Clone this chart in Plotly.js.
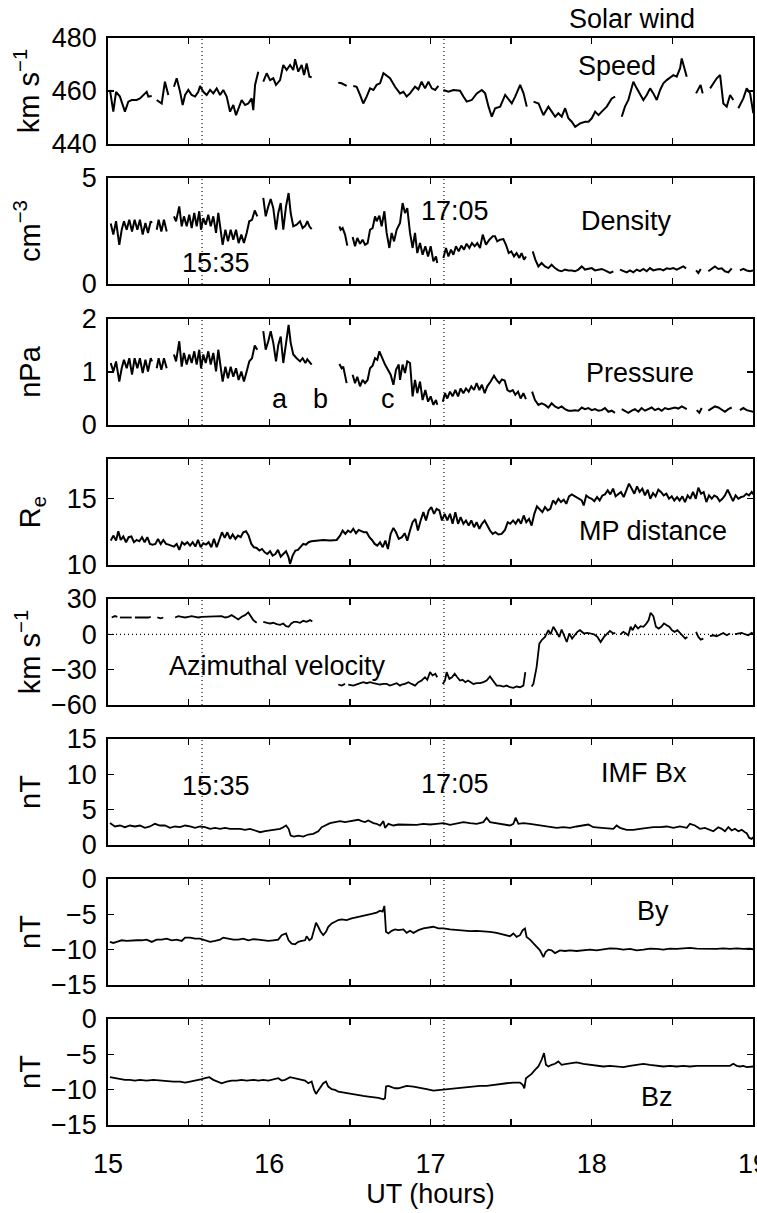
<!DOCTYPE html>
<html>
<head>
<meta charset="utf-8">
<script src="https://cdn.plot.ly/plotly-3.0.1.min.js"></script>
<style>html,body{margin:0;padding:0;background:#fff;}#plot{width:757px;height:1213px;}</style>
</head>
<body>
<div id="plot"></div>
<script>
// ---------------- DATA (UT hours) ----------------
const speedT = [15.012,15.033,15.050,15.074,15.105,15.126,15.147,15.178,15.198,15.219,15.240,15.250,15.271,null,
 15.302,15.333,15.353,15.374,null,
 15.409,15.426,15.447,15.463,15.478,15.498,15.519,15.540,15.560,15.571,15.591,15.612,15.633,15.653,15.674,15.695,15.715,15.736,15.757,15.777,15.794,15.814,15.829,15.850,15.870,15.891,15.901,15.912,15.932,null,
 15.963,15.984,16.005,16.025,16.042,16.067,16.087,16.108,16.129,16.149,16.160,16.180,16.201,16.216,16.232,16.249,16.263,null,
 16.428,16.449,16.480,null,
 16.521,16.542,16.563,16.583,16.604,16.625,16.646,16.666,16.687,16.708,16.749,16.780,16.811,16.832,16.852,16.873,16.904,16.925,16.945,16.966,16.987,17.008,17.029,17.049,null,
 17.080,17.111,17.142,17.183,17.204,17.225,17.256,17.287,17.318,17.339,17.360,17.380,17.401,17.432,17.463,17.484,17.504,17.525,17.556,17.577,17.597,null,
 17.639,17.670,17.700,17.731,17.752,17.773,17.793,17.814,17.835,17.855,17.876,17.897,17.928,17.959,17.980,18.000,18.021,18.042,18.062,18.093,18.124,18.145,null,
 18.186,18.206,18.227,18.258,18.279,18.300,18.320,18.341,18.362,18.382,18.403,18.424,18.444,18.465,18.486,18.506,18.527,18.548,18.558,18.568,18.589,null,
 18.647,18.661,18.675,18.688,null,
 18.734,18.754,18.775,18.796,18.816,18.837,18.858,18.878,null,
 18.909,18.940,18.961,18.982,19.002];
const speedV = [460.4,452.2,459.7,457.9,452.2,456.0,456.6,456.6,457.2,458.5,459.7,457.9,458.1,null,
 456.6,455.3,463.5,458.5,null,
 461.6,464.8,459.7,454.7,458.5,460.4,458.5,457.9,459.7,461.9,459.7,458.5,460.4,459.1,461.0,458.5,460.4,457.9,452.2,454.7,450.9,454.1,456.6,454.7,455.3,457.2,452.8,462.3,467.3,null,
 463.5,466.7,464.1,464.8,462.3,464.1,469.8,467.9,469.8,467.9,472.0,467.3,469.8,466.0,470.4,465.4,465.2,null,
 463.1,462.9,461.9,null,
 461.9,461.6,458.5,455.3,457.9,461.0,460.4,462.3,462.9,466.7,464.8,461.6,459.1,459.7,457.9,459.1,461.6,460.6,463.5,461.0,463.5,461.0,460.4,461.9,null,
 460.4,459.7,460.4,460.1,457.9,456.0,456.6,459.1,460.4,459.1,454.1,450.3,453.5,454.1,458.5,456.6,455.3,457.9,462.3,459.1,454.1,null,
 456.0,455.3,450.9,454.1,452.2,450.3,451.6,450.3,453.5,449.7,448.4,446.5,447.8,448.4,448.4,449.7,452.2,450.9,452.2,454.1,457.2,457.9,null,
 450.3,454.1,456.6,463.5,461.0,458.5,456.6,458.5,461.0,459.1,456.6,460.4,462.9,464.1,465.2,466.0,465.4,468.6,472.3,469.8,465.4,null,
 459.1,461.0,462.3,459.1,null,
 461.0,462.9,464.8,466.0,455.3,454.1,458.5,456.6,null,
 453.5,457.2,461.0,459.1,451.6];

const densT = [15.017,15.033,15.050,15.070,15.085,15.099,15.116,15.132,15.149,15.165,15.182,15.198,15.215,15.232,15.248,15.265,15.273,null,
 15.302,15.314,15.331,15.347,15.364,null,
 15.409,15.422,15.442,15.457,15.471,15.488,15.504,15.519,15.535,15.550,15.566,15.577,15.591,15.606,15.622,15.637,15.653,15.670,15.684,15.695,15.711,15.728,15.744,15.761,15.777,15.794,15.810,15.827,15.843,15.860,15.876,15.893,15.910,15.926,null,
 15.963,15.978,15.994,16.009,16.025,16.042,16.056,16.071,16.087,16.104,16.120,16.133,16.149,16.170,16.191,16.207,16.224,16.236,16.249,16.263,null,
 16.435,16.443,16.455,16.470,16.484,null,
 16.517,16.532,16.546,16.563,16.579,16.594,16.610,16.625,16.641,16.656,16.666,16.683,16.697,16.714,16.728,16.745,16.759,16.774,16.790,16.811,16.827,16.842,16.856,16.873,16.889,16.904,16.918,16.935,16.951,16.968,16.985,17.001,17.018,17.034,17.042,null,
 17.080,17.096,17.111,17.127,17.142,17.158,17.175,17.191,17.208,17.224,17.241,17.257,17.274,17.290,17.307,17.324,17.344,17.365,17.386,17.400,17.414,17.431,17.452,17.468,17.485,17.501,17.518,17.534,17.551,17.565,17.580,17.592,null,
 17.634,17.650,17.669,17.689,17.710,17.731,17.751,17.772,17.793,17.813,17.834,17.855,17.876,17.896,17.917,17.938,17.958,17.979,18.000,18.020,18.041,18.062,18.082,18.113,18.134,null,
 18.175,18.196,18.217,18.237,18.258,18.279,18.299,18.320,18.341,18.361,18.382,18.403,18.423,18.444,18.465,18.485,18.506,18.527,18.547,18.568,18.585,null,
 18.647,18.661,18.676,null,
 18.723,18.744,18.764,18.785,18.806,18.826,18.847,18.868,null,
 18.919,18.940,18.961,18.981,19.002];
const densV = [2.85,2.33,2.96,1.85,2.56,2.96,2.56,3.03,2.48,3.03,2.56,3.03,2.33,2.88,2.41,2.96,2.88,null,
 2.56,3.03,2.48,3.03,2.48,null,
 3.19,2.96,3.66,2.72,3.19,2.72,3.27,2.64,3.35,2.72,3.43,2.56,3.11,2.80,3.27,2.72,3.19,2.41,3.35,2.64,1.85,2.56,2.01,2.56,2.09,2.56,1.93,2.33,1.93,2.41,2.96,3.03,3.47,3.19,null,
 4.06,3.19,3.66,4.01,3.58,2.56,3.35,3.82,2.56,3.66,4.29,3.35,2.72,2.80,2.96,2.64,2.75,2.96,2.72,2.59,null,
 2.72,2.56,2.64,2.33,1.81,null,
 2.22,1.78,2.17,1.90,2.09,1.85,1.93,2.56,2.64,3.19,2.96,3.22,2.72,3.43,2.41,1.70,2.41,2.01,2.56,2.88,3.82,3.35,3.58,2.41,1.70,2.41,1.46,1.93,1.38,1.78,1.30,1.78,1.07,1.30,0.99,null,
 1.23,1.70,1.30,1.62,1.38,1.78,1.54,1.81,1.62,1.90,1.70,1.93,1.78,1.93,1.70,2.33,1.85,2.09,2.25,2.25,2.01,2.09,2.12,1.85,1.46,1.54,1.30,1.46,1.23,1.46,1.15,1.30,null,
 1.54,1.15,0.83,0.99,0.83,0.75,0.91,0.75,0.64,0.60,0.68,0.64,0.64,0.60,0.68,0.83,0.68,0.71,0.75,0.64,0.68,0.71,0.64,0.52,0.60,null,
 0.68,0.60,0.55,0.64,0.55,0.68,0.61,0.71,0.60,0.75,0.64,0.68,0.71,0.64,0.74,0.71,0.75,0.68,0.77,0.83,0.74,null,
 0.64,0.52,0.71,null,
 0.60,0.74,0.83,0.71,0.74,0.60,0.55,0.74,null,
 0.64,0.71,0.64,0.60,0.64];

const presT = [15.017,15.033,15.050,15.070,15.085,15.099,15.116,15.132,15.149,15.165,15.182,15.198,15.215,15.232,15.248,15.265,15.273,null,
 15.302,15.314,15.331,15.347,15.364,null,
 15.409,15.422,15.442,15.457,15.471,15.488,15.504,15.519,15.535,15.550,15.566,15.577,15.591,15.606,15.622,15.637,15.653,15.670,15.684,15.695,15.711,15.728,15.744,15.761,15.777,15.794,15.810,15.827,15.843,15.860,15.876,15.893,15.910,15.926,null,
 15.963,15.978,15.994,16.009,16.025,16.042,16.056,16.071,16.087,16.104,16.120,16.133,16.149,16.170,16.191,16.207,16.224,16.236,16.249,16.263,null,
 16.435,16.449,16.459,16.480,null,
 16.517,16.532,16.546,16.563,16.579,16.594,16.610,16.625,16.641,16.656,16.670,16.683,16.697,16.718,16.753,16.770,16.786,16.803,16.811,16.827,16.842,16.856,16.873,16.889,16.904,16.918,16.935,16.951,16.968,16.985,17.001,17.018,17.034,17.042,null,
 17.076,17.090,17.104,17.121,17.137,17.154,17.171,17.187,17.204,17.220,17.237,17.253,17.270,17.286,17.303,17.319,17.336,17.352,17.373,17.394,17.410,17.427,17.443,17.460,17.477,17.493,17.510,17.526,17.543,17.559,17.576,17.592,null,
 17.630,17.648,17.669,17.689,17.710,17.731,17.751,17.772,17.793,17.813,17.834,17.855,17.876,17.896,17.917,17.938,17.958,17.979,18.000,18.020,18.041,18.062,18.082,18.103,18.124,18.144,null,
 18.186,18.206,18.227,18.248,18.268,18.289,18.309,18.330,18.351,18.372,18.392,18.413,18.434,18.454,18.475,18.496,18.516,18.537,18.558,18.578,18.589,null,
 18.651,18.667,18.682,null,
 18.723,18.744,18.764,18.785,18.806,18.826,18.847,18.868,null,
 18.919,18.940,18.961,18.981,19.002];
const presV = [1.17,1.01,1.20,0.82,1.07,1.23,1.07,1.26,0.95,1.26,1.07,1.26,0.98,1.23,1.01,1.26,1.20,null,
 1.07,1.26,1.04,1.26,1.07,null,
 1.33,1.20,1.58,1.10,1.36,1.14,1.33,1.17,1.39,1.14,1.42,1.07,1.33,1.17,1.39,1.14,1.36,1.01,1.42,1.14,0.82,1.10,0.88,1.10,0.91,1.07,0.85,1.01,0.82,1.01,1.20,1.26,1.50,1.42,null,
 1.77,1.42,1.58,1.77,1.55,1.20,1.51,1.67,1.17,1.58,1.89,1.55,1.33,1.26,1.20,1.26,1.17,1.24,1.18,1.14,null,
 1.15,1.07,1.10,0.79,null,
 0.95,0.79,0.91,0.73,0.85,0.79,0.85,1.07,1.12,1.26,1.23,1.39,1.29,1.14,0.95,0.76,1.04,1.14,0.85,1.14,0.98,1.20,1.17,0.54,0.85,0.60,0.82,0.47,0.66,0.44,0.54,0.38,0.47,0.38,null,
 0.44,0.60,0.50,0.63,0.54,0.66,0.54,0.69,0.60,0.69,0.63,0.73,0.66,0.79,0.66,0.76,0.60,0.73,0.82,0.93,0.85,0.79,0.86,0.84,0.66,0.63,0.66,0.57,0.63,0.50,0.60,0.49,null,
 0.63,0.47,0.38,0.41,0.38,0.33,0.41,0.35,0.32,0.35,0.30,0.27,0.27,0.28,0.27,0.33,0.30,0.32,0.28,0.30,0.27,0.28,0.32,0.25,0.27,0.23,null,
 0.30,0.27,0.23,0.27,0.30,0.25,0.32,0.27,0.30,0.33,0.28,0.31,0.27,0.32,0.30,0.32,0.33,0.31,0.35,0.32,0.30,null,
 0.28,0.23,0.32,null,
 0.27,0.32,0.35,0.33,0.28,0.25,0.30,0.33,null,
 0.28,0.32,0.28,0.27,0.25];

const mpT = [15.017,15.033,15.050,15.064,15.079,15.095,15.112,15.128,15.145,15.161,15.178,15.194,15.211,15.227,15.244,15.260,15.277,15.294,15.310,15.327,15.343,15.360,15.376,15.393,15.409,15.426,15.442,15.459,15.475,15.492,15.509,15.525,15.542,15.558,15.575,15.591,15.608,15.624,15.641,15.657,15.674,15.690,15.707,15.724,15.740,15.757,15.773,15.790,15.806,15.823,15.839,15.856,15.872,15.889,15.905,15.922,15.939,15.955,15.972,15.988,16.005,16.021,16.038,16.054,16.071,16.087,16.104,16.120,16.129,16.145,16.162,16.178,16.195,16.211,16.228,16.244,16.261,16.294,16.335,16.377,16.418,16.439,16.455,16.472,16.488,16.505,16.521,16.538,16.555,16.571,16.588,16.604,16.621,16.637,16.654,16.670,16.687,16.704,16.720,16.736,16.753,16.770,16.786,16.803,
 16.823,16.840,16.856,16.873,16.889,16.906,16.922,16.939,16.956,16.972,16.989,17.005,17.022,17.038,17.055,17.071,17.088,17.104,17.121,17.137,17.154,17.171,17.187,17.204,17.220,17.237,17.253,17.270,17.286,17.303,17.319,17.336,17.352,17.369,17.386,17.402,17.421,17.441,17.462,17.479,17.495,17.512,17.528,17.545,17.561,17.578,17.594,17.611,17.627,17.644,17.660,17.677,17.694,17.710,17.727,17.743,17.760,17.776,17.793,17.809,17.826,17.842,17.859,17.876,17.896,17.917,17.938,17.950,17.966,17.983,18.000,18.016,18.033,18.049,18.066,18.082,18.099,18.115,18.132,18.148,18.165,18.181,18.198,18.214,18.231,18.248,18.264,18.281,18.297,18.314,18.330,18.347,18.363,18.380,18.396,18.413,18.429,18.446,18.463,18.479,18.496,18.512,18.529,18.545,18.562,18.578,18.595,18.611,18.628,18.645,18.661,18.678,18.694,18.711,18.727,18.744,18.760,18.777,18.793,18.810,18.826,18.843,18.859,18.876,18.892,18.909,18.926,18.942,18.959,18.975,18.992,19.002];
const mpV = [11.84,12.22,11.84,12.55,11.89,12.15,11.72,12.10,12.15,11.72,11.89,11.79,12.10,11.72,12.10,11.59,11.54,11.59,11.97,11.59,11.89,11.59,11.54,11.46,11.39,11.59,11.14,11.72,11.54,11.72,11.46,11.72,11.39,11.89,11.34,11.64,11.54,11.72,11.34,11.97,11.34,11.89,12.47,12.05,12.47,11.97,12.30,11.97,12.22,12.10,12.47,12.55,12.22,11.59,11.34,11.29,11.09,11.21,10.96,10.83,11.04,10.71,10.83,11.14,10.63,10.83,11.04,10.58,10.08,10.71,11.09,11.14,11.34,11.59,11.54,11.72,11.79,11.84,11.89,11.84,11.89,12.22,12.60,12.35,12.60,12.47,12.73,12.40,12.65,12.55,12.47,12.47,12.10,11.89,11.59,11.46,11.72,11.34,11.84,11.21,12.35,12.80,12.47,11.97,
 12.10,12.40,11.84,12.60,13.23,13.48,12.60,13.36,13.99,13.36,14.12,14.37,13.86,14.24,14.12,13.36,13.86,13.36,13.86,13.11,13.99,13.11,13.61,13.11,13.36,12.98,13.36,12.85,13.23,12.73,13.11,13.36,12.98,12.60,12.35,12.47,12.30,12.35,12.65,13.23,13.11,13.36,13.11,13.48,13.11,13.74,13.23,13.48,12.98,13.86,14.42,14.24,13.99,14.37,14.12,14.24,14.87,14.62,15.00,14.75,14.92,14.62,15.18,15.33,15.18,15.08,14.87,14.49,15.25,15.08,15.00,14.82,15.13,14.87,15.25,15.33,15.63,15.33,15.76,15.18,15.38,15.51,15.13,15.68,16.14,15.76,15.38,15.93,15.51,15.76,15.25,15.68,15.00,15.43,15.18,15.68,15.51,15.25,15.38,15.00,15.18,14.87,15.13,14.87,15.18,14.75,15.25,15.00,15.51,15.00,15.83,15.38,15.51,14.75,15.25,15.00,15.25,15.13,14.82,15.00,15.25,15.68,15.25,14.82,15.25,15.00,15.13,15.18,15.38,15.25,15.51,15.33];

const azT = [15.023,15.043,15.058,null,
 15.074,15.099,15.126,15.147,null,
 15.167,15.198,15.223,15.250,15.265,null,
 15.306,15.327,15.343,null,
 15.416,15.436,15.457,15.478,15.498,15.519,15.540,15.560,15.581,15.602,15.622,15.643,15.664,15.684,15.705,15.726,15.746,15.767,15.788,15.808,15.829,15.850,15.870,15.885,15.901,15.922,null,
 15.963,15.984,16.005,16.025,16.046,16.067,16.087,16.104,16.120,16.137,16.153,16.170,16.191,16.211,16.232,16.253,16.267,null,
 16.428,16.449,16.470,null,
 16.490,16.521,16.552,16.583,16.604,16.625,16.646,16.666,16.687,16.708,16.728,16.749,16.770,16.790,16.811,16.821,16.842,16.863,16.883,16.904,16.925,16.945,16.966,16.980,16.997,17.013,17.030,17.042,null,
 17.076,17.090,17.100,17.117,17.133,17.150,17.166,17.183,17.199,17.216,17.233,17.249,17.266,17.286,17.307,17.328,17.348,17.369,17.390,17.410,17.431,17.452,17.472,17.493,17.514,17.534,17.555,17.576,17.588,null,
 17.627,17.638,17.658,17.675,17.689,17.710,17.731,17.745,17.762,17.782,17.799,17.813,17.828,17.845,17.861,17.878,17.894,17.911,17.927,17.952,17.973,17.993,18.014,18.035,18.055,18.076,18.097,18.113,18.134,18.146,null,
 18.179,18.196,18.212,18.227,18.241,18.254,18.270,18.287,18.303,18.320,18.336,18.353,18.365,18.382,18.398,18.415,18.431,18.448,18.465,18.481,18.498,18.514,18.531,18.547,18.564,18.580,18.593,null,
 18.647,18.661,18.676,18.692,null,
 18.733,18.754,18.775,18.795,18.816,18.837,18.857,null,
 18.888,18.909,18.930,18.950,18.971,18.992,19.002];
const azV = [14.3,15.5,14.9,null,
 14.3,14.3,14.9,14.3,null,
 14.3,14.3,14.1,14.3,14.9,null,
 14.3,13.5,14.3,null,
 14.3,15.5,14.9,14.3,14.9,15.5,14.9,14.3,14.9,14.9,15.5,14.9,15.5,14.9,15.5,14.3,14.9,16.3,14.3,12.6,14.9,16.3,18.6,14.9,12.1,9.8,null,
 10.6,9.8,9.2,9.8,8.6,8.1,9.2,6.9,6.4,9.2,10.6,10.6,9.8,11.5,10.6,12.1,10.9,null,
 -42.6,-43.5,-42.1,null,
 -42.6,-43.5,-42.1,-40.6,-41.5,-40.6,-41.5,-42.1,-42.6,-42.1,-42.1,-43.5,-42.6,-41.5,-43.5,-42.6,-42.1,-40.6,-42.1,-43.5,-40.6,-39.2,-36.4,-38.6,-32.1,-34.9,-33.5,-36.4,null,
 -42.1,-39.2,-32.1,-37.8,-36.4,-33.5,-36.4,-39.2,-38.6,-40.6,-39.2,-40.6,-42.1,-41.5,-41.5,-40.6,-39.2,-35.8,-39.8,-43.5,-43.5,-44.3,-43.5,-44.9,-45.5,-44.3,-44.9,-43.5,-32.1,null,
 -44.3,-42.1,-27.8,-7.9,-5.0,-2.2,3.5,0.1,6.4,2.1,-2.2,4.1,-0.8,-6.5,0.7,-3.6,-0.8,2.1,3.5,0.7,1.2,0.7,0.1,-2.2,-6.5,-2.2,0.7,2.9,0.7,1.2,null,
 0.1,2.1,0.7,-0.8,6.4,3.5,7.8,4.9,6.9,6.4,8.6,12.1,18.3,15.5,6.4,4.9,6.4,9.2,7.8,6.4,3.5,2.1,3.5,1.2,-0.8,-3.6,-2.2,null,
 2.1,-2.2,-4.5,-3.6,null,
 -1.6,-0.8,-1.6,0.1,1.2,-0.8,0.7,null,
 0.1,0.7,1.2,0.1,-0.8,1.2,0.1];

const bxT = [15.012,15.043,15.074,15.105,15.136,15.167,15.198,15.229,15.260,15.291,15.322,15.353,15.384,15.416,15.447,15.478,15.509,15.540,15.571,15.602,15.633,15.664,15.695,15.726,15.757,15.788,15.819,15.850,15.881,15.912,15.943,15.974,16.005,16.036,16.067,16.087,16.104,16.120,16.133,16.153,16.180,16.211,16.242,16.273,16.304,16.325,16.346,16.377,16.408,16.439,16.470,16.501,16.532,16.552,16.573,16.594,16.614,16.646,16.666,16.687,16.708,16.718,16.739,16.770,16.801,
 16.832,16.873,16.914,16.956,16.997,17.038,17.080,17.121,17.162,17.204,17.245,17.286,17.328,17.348,17.369,17.410,17.452,17.493,17.514,17.528,17.545,17.576,17.617,17.658,17.700,17.741,17.782,17.824,17.865,17.906,17.948,17.979,18.010,18.051,18.093,18.134,18.154,18.175,18.216,18.258,18.299,18.341,18.382,18.423,18.465,18.506,18.547,18.589,18.609,18.640,18.671,18.702,18.733,18.754,18.785,18.806,18.826,18.847,18.868,18.888,18.909,18.930,18.950,18.961,18.977,18.992,19.002];
const bxV = [3.10,2.62,2.76,2.52,2.76,2.62,2.76,2.43,2.62,3.00,2.76,2.76,2.43,2.62,2.52,2.76,2.62,2.43,2.62,2.52,2.29,2.43,2.29,2.43,2.29,2.29,2.29,2.14,2.29,2.05,1.81,1.95,2.05,2.14,2.29,2.52,2.76,2.29,1.33,1.19,1.33,1.19,1.48,1.57,1.95,2.52,2.76,3.10,3.24,3.38,3.24,3.38,3.48,3.57,3.38,3.24,3.48,3.10,3.00,2.76,3.38,2.43,3.00,2.76,2.90,
 2.86,2.90,2.86,3.00,2.90,3.00,3.10,2.86,3.00,3.24,3.10,3.00,3.24,3.86,3.24,3.10,3.00,2.76,3.00,3.86,3.00,3.10,3.00,2.86,2.71,2.62,2.43,2.52,2.43,2.62,2.76,2.90,2.52,2.43,2.43,2.29,2.76,2.43,2.14,2.14,2.29,2.43,2.52,2.52,2.62,2.43,2.62,2.43,3.00,2.76,2.29,2.43,2.14,1.95,2.52,2.29,1.95,2.52,2.05,2.29,1.95,2.14,1.81,1.67,1.00,0.86,1.10];

const byT = [15.012,15.033,15.054,15.085,15.116,15.147,15.178,15.209,15.240,15.271,15.302,15.333,15.364,15.395,15.426,15.457,15.478,15.509,15.540,15.571,15.602,15.633,15.664,15.695,15.715,15.746,15.777,15.808,15.839,15.870,15.901,15.932,15.963,15.994,16.025,16.056,16.077,16.104,16.120,16.139,16.160,16.180,16.201,16.222,16.232,16.249,16.263,16.278,16.290,16.304,16.319,16.335,16.352,16.366,16.387,16.408,16.428,16.449,16.480,16.511,16.542,16.573,16.604,16.635,16.666,16.687,16.703,16.714,16.724,16.739,16.759,16.780,16.801,
 16.832,16.852,16.873,16.894,16.925,16.956,16.987,17.018,17.049,17.080,17.121,17.162,17.204,17.245,17.286,17.328,17.369,17.410,17.452,17.493,17.514,17.534,17.555,17.572,17.586,17.596,17.617,17.638,17.658,17.679,17.700,17.714,17.731,17.751,17.772,17.803,17.834,17.865,17.906,17.948,17.989,18.030,18.072,18.113,18.154,18.196,18.237,18.279,18.320,18.361,18.403,18.444,18.485,18.527,18.568,18.609,18.651,18.692,18.733,18.775,18.816,18.857,18.899,18.940,18.981,19.002];
const byV = [-8.90,-9.05,-8.90,-8.67,-8.76,-8.67,-8.67,-8.67,-8.57,-8.90,-8.57,-8.57,-8.43,-8.67,-8.57,-8.76,-8.29,-8.29,-8.43,-8.43,-8.67,-8.90,-8.76,-8.57,-8.29,-8.43,-8.57,-8.57,-8.43,-8.67,-8.52,-8.57,-8.67,-8.76,-8.67,-8.57,-7.95,-7.71,-8.67,-9.14,-9.24,-8.90,-8.76,-8.67,-8.10,-8.67,-8.43,-7.00,-6.19,-6.76,-7.48,-7.95,-7.48,-6.76,-6.29,-6.05,-5.81,-5.71,-5.81,-5.57,-5.43,-5.24,-5.10,-4.95,-4.76,-4.48,-4.62,-3.81,-7.48,-7.71,-7.33,-7.14,-7.24,
 -7.14,-7.62,-7.33,-7.62,-7.24,-7.00,-6.86,-6.76,-7.00,-7.00,-7.14,-7.24,-7.33,-7.38,-7.33,-7.38,-7.48,-7.62,-7.81,-8.10,-7.71,-8.19,-7.95,-7.24,-7.00,-8.19,-8.57,-9.14,-9.62,-10.10,-11.05,-10.33,-10.00,-10.10,-10.48,-10.10,-10.19,-10.10,-10.19,-10.10,-10.00,-10.10,-9.90,-9.81,-9.86,-10.00,-9.90,-10.10,-10.00,-9.86,-9.90,-10.00,-9.86,-9.90,-9.81,-9.76,-9.86,-9.90,-9.86,-9.90,-9.81,-9.90,-9.81,-9.90,-9.86,-9.95];

const bzT = [15.012,15.043,15.074,15.105,15.136,15.167,15.198,15.240,15.281,15.322,15.364,15.405,15.447,15.478,15.509,15.550,15.581,15.602,15.628,15.653,15.678,15.705,15.736,15.767,15.798,15.829,15.860,15.901,15.932,15.963,15.994,16.025,16.056,16.077,16.098,16.129,16.160,16.191,16.222,16.242,16.263,16.278,16.290,16.304,16.319,16.335,16.352,16.366,16.387,16.408,16.428,16.459,16.490,16.521,16.552,16.583,16.614,16.646,16.677,16.708,16.718,16.724,16.739,16.759,16.780,16.801,
 16.852,16.894,16.935,16.976,17.018,17.059,17.100,17.142,17.183,17.224,17.266,17.307,17.348,17.390,17.431,17.472,17.514,17.555,17.572,17.582,17.592,17.607,17.627,17.648,17.669,17.689,17.704,17.716,17.731,17.751,17.772,17.793,17.813,17.844,17.876,17.906,17.948,17.989,18.030,18.072,18.113,18.154,18.196,18.237,18.279,18.320,18.361,18.403,18.444,18.485,18.527,18.568,18.609,18.651,18.692,18.733,18.775,18.816,18.857,18.878,18.899,18.919,18.940,18.961,18.981,19.002];
const bzV = [-8.23,-8.38,-8.52,-8.61,-8.61,-8.71,-8.61,-8.71,-8.61,-8.71,-8.71,-8.85,-8.85,-8.99,-8.85,-8.71,-8.52,-8.38,-8.23,-8.61,-8.85,-9.09,-8.85,-8.71,-8.71,-8.61,-8.71,-8.61,-8.71,-8.61,-8.71,-8.52,-8.38,-8.71,-8.61,-8.23,-8.38,-8.61,-8.71,-9.09,-8.85,-10.03,-10.60,-10.13,-9.56,-9.09,-8.85,-9.56,-9.94,-10.03,-10.27,-10.41,-10.51,-10.60,-10.74,-10.88,-10.98,-11.07,-11.17,-11.36,-11.22,-9.56,-9.47,-9.65,-9.80,-9.80,
 -9.47,-9.56,-9.80,-9.94,-10.13,-10.03,-9.94,-9.80,-9.80,-9.65,-9.56,-9.47,-9.47,-9.32,-9.23,-9.09,-8.99,-8.99,-9.32,-9.80,-8.38,-8.14,-7.76,-7.19,-6.72,-5.77,-4.83,-6.48,-6.72,-6.48,-6.34,-6.01,-6.48,-6.34,-6.25,-6.15,-6.34,-6.48,-6.63,-6.72,-6.63,-6.72,-6.81,-6.63,-6.53,-6.34,-6.48,-6.63,-6.72,-6.63,-6.72,-6.63,-6.72,-6.63,-6.63,-6.72,-6.63,-6.72,-6.63,-6.34,-6.63,-6.72,-6.63,-6.81,-6.72,-6.72];

const eventTimes = [15 + 35/60, 17 + 5/60];      // 15:35 and 17:05 UT
const xTickVals = [15, 16, 17, 18, 19];
const xTickText = ['15', '16', '17', '18', '19'];

const panels = [
  {t: speedT, v: speedV, range: [440, 480], ticks: [440, 460, 480], unit: 'km s<sup>\u22121</sup>', w: 2.0, so: 3},
  {t: densT,  v: densV,  range: [0, 5],     ticks: [0, 5],          unit: 'cm<sup>\u22123</sup>', w: 2.0, so: 33},
  {t: presT,  v: presV,  range: [0, 2],     ticks: [0, 1, 2],       unit: 'nPa', w: 2.0, so: 33},
  {t: mpT,    v: mpV,    range: [10, 18],   ticks: [10, 15],        unit: 'R<sub>e</sub>', w: 2.0, so: 18},
  {t: azT,    v: azV,    range: [-60, 30],  ticks: [-60, -30, 0, 30], unit: 'km s<sup>\u22121</sup>', w: 1.8, so: 2},
  {t: bxT,    v: bxV,    range: [0, 15],    ticks: [0, 5, 10, 15],  unit: 'nT', w: 1.8, so: 18},
  {t: byT,    v: byV,    range: [-15, 0],   ticks: [-15, -10, -5, 0], unit: 'nT', w: 1.8, so: 2},
  {t: bzT,    v: bzV,    range: [-15, 0],   ticks: [-15, -10, -5, 0], unit: 'nT', w: 1.8, so: 2}
];

// ---------------- LAYOUT ----------------
const W = 757, H = 1213, L = 108, R = 753;
const tops = [38, 178, 319, 459, 599, 739, 879, 1019];
const PH = 106;
const FONT = 'Liberation Sans, Arial, Helvetica, sans-serif';
const FS = 27;
const px2x = p => (p - L) / (R - L);
const py2y = p => 1 - p / H;

const data = [];
const layout = {
  width: W, height: H,
  margin: {l: L, r: W - R, t: 0, b: 0, pad: 0},
  paper_bgcolor: 'white', plot_bgcolor: 'white',
  showlegend: false,
  font: {family: FONT, size: FS, color: 'black'},
  shapes: [], annotations: []
};

panels.forEach((p, i) => {
  const n = i + 1, sfx = n === 1 ? '' : String(n);
  data.push({x: p.t, y: p.v, xaxis: 'x' + sfx, yaxis: 'y' + sfx, type: 'scatter', mode: 'lines',
    line: {color: 'black', width: p.w}, connectgaps: false, hoverinfo: 'skip'});
  const dom = [1 - (tops[i] + PH) / H, 1 - tops[i] / H];
  layout['xaxis' + sfx] = {
    domain: [0, 1], range: [15, 19], anchor: 'y' + sfx,
    tickmode: 'array', tickvals: xTickVals, ticktext: xTickText,
    showticklabels: n === 8, ticks: 'inside', ticklen: 6, tickwidth: 1.3, tickcolor: 'black',
    minor: {dtick: 0.5, tick0: 15, ticks: 'inside', ticklen: 6, tickwidth: 1.3, tickcolor: 'black', showgrid: false},
    showline: true, mirror: 'allticks', linecolor: 'black', linewidth: 1.8,
    showgrid: false, zeroline: false, automargin: false, ticklabelstandoff: 14,
    ticklabeloverflow: 'allow',
    tickfont: {family: FONT, size: FS, color: 'black'}
  };
  if (n === 8) {
    layout['xaxis' + sfx].title = {text: 'UT (hours)', standoff: 6, font: {family: FONT, size: FS, color: 'black'}};
  }
  layout['yaxis' + sfx] = {
    domain: dom, range: p.range, anchor: 'x' + sfx,
    tickmode: 'array', tickvals: p.ticks,
    ticks: 'inside', ticklen: 6, tickwidth: 1.3, tickcolor: 'black',
    showline: true, mirror: 'allticks', linecolor: 'black', linewidth: 1.8,
    showgrid: false, zeroline: false, automargin: false, ticklabelstandoff: 4,
    ticklabeloverflow: 'allow',
    tickfont: {family: FONT, size: FS, color: 'black'},
    title: {text: p.unit, standoff: p.so, font: {family: FONT, size: 29, color: 'black'}}
  };
  eventTimes.forEach(et => {
    layout.shapes.push({type: 'line', xref: 'x' + sfx, yref: 'y' + sfx + ' domain',
      x0: et, x1: et, y0: 0, y1: 1, line: {color: 'black', width: 1.1, dash: '1px,3px'}});
  });
});
// zero line in azimuthal velocity panel
layout.shapes.push({type: 'line', xref: 'x5 domain', yref: 'y5', x0: 0, x1: 1, y0: 0, y1: 0,
  line: {color: 'black', width: 1.1, dash: '1px,3px'}});

const labels = [
  ['Solar wind', 632, 19], ['Speed', 617, 66], ['Density', 626, 221],
  ['15:35', 216, 263], ['17:05', 455, 211], ['Pressure', 640, 373],
  ['a', 280, 399], ['b', 320, 399], ['c', 388, 399],
  ['MP distance', 653, 531], ['Azimuthal velocity', 277, 666],
  ['15:35', 216, 786], ['17:05', 455, 784], ['IMF Bx', 644, 773],
  ['By', 653, 911], ['Bz', 657, 1097]
];
labels.forEach(([txt, x, y]) => layout.annotations.push({
  xref: 'paper', yref: 'paper', x: px2x(x), y: py2y(y), text: txt, showarrow: false,
  xanchor: 'center', yanchor: 'middle', font: {family: FONT, size: FS, color: 'black'}
}));

Plotly.newPlot('plot', data, layout, {staticPlot: true, displayModeBar: false});
</script>
</body>
</html>
